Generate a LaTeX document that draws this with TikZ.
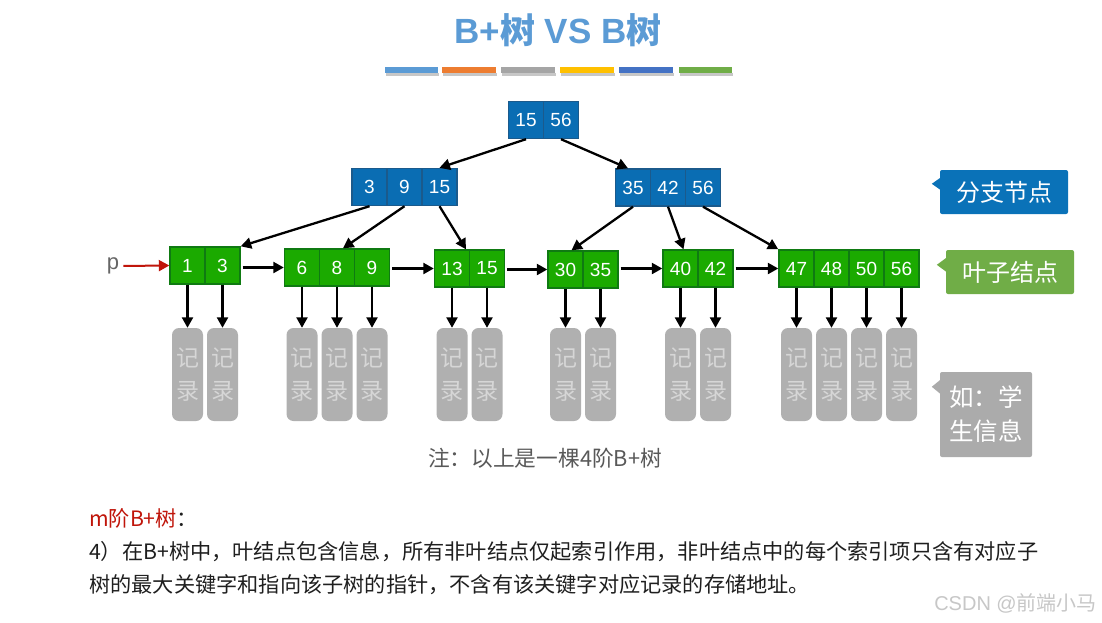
\documentclass[tikz,border=0pt]{standalone}
\usepackage{fontspec}
\setmainfont{Liberation Sans}
\newfontfamily\cjk{Noto Sans CJK SC}
\usetikzlibrary{arrows.meta,calc}
\definecolor{nblue}{HTML}{0A6DB3}
\definecolor{nblueb}{HTML}{1B5A8C}
\definecolor{ngreen}{HTML}{1BAA00}
\definecolor{ngreenb}{HTML}{0F7A12}
\definecolor{recgray}{HTML}{B0B0B0}
\definecolor{rectext}{HTML}{D6D6D6}
\definecolor{lblblue}{HTML}{0A72B8}
\definecolor{lblgreen}{HTML}{70AD47}
\definecolor{lblgray}{HTML}{ABABAB}
\definecolor{ttl}{HTML}{5B9BD5}
\definecolor{pred}{HTML}{C0150A}
\definecolor{notegray}{HTML}{595959}
\definecolor{barA}{HTML}{5B9BD5}
\definecolor{barB}{HTML}{ED7D31}
\definecolor{barC}{HTML}{A5A5A5}
\definecolor{barD}{HTML}{FFC000}
\definecolor{barE}{HTML}{4472C4}
\definecolor{barF}{HTML}{70AD47}
\tikzset{
  cellb/.style={draw=nblueb, fill=nblue, line width=1.4pt, minimum width=35pt, minimum height=37pt, inner sep=0pt, text=white, font=\fontsize{19pt}{19pt}\selectfont},
  cellg/.style={cellb, draw=ngreenb, fill=ngreen},
  rec/.style={fill=recgray, rounded corners=7pt, minimum width=31pt, minimum height=93pt, inner sep=0pt, text=rectext, align=center, font=\cjk\fontsize{23pt}{33pt}\selectfont},
  arr/.style={line width=2.3pt, -{Triangle[length=10.5pt,width=11pt]}},
  lbl/.style={rounded corners=2pt, minimum width=128pt, minimum height=44pt, inner sep=0pt, text=white, font=\cjk\fontsize{24pt}{24pt}\selectfont},
  bodytext/.style={anchor=west, inner sep=0pt, text=black!88, font=\cjk\fontsize{21.2pt}{21.2pt}\selectfont},
}
\begin{document}
\begin{tikzpicture}[x=1pt,y=-1pt]
\path[use as bounding box, fill=white] (0,0) rectangle (1102,622);
% title
\node[anchor=base, text=ttl, font=\bfseries\fontsize{35pt}{35pt}\selectfont] (title) at (558,43) {B+{\cjk\bfseries 树} VS B{\cjk\bfseries 树}};
% colour bars
\foreach \xa/\xb/\c in {385/438/barA, 442/496/barB, 501/555/barC, 560/614/barD, 619/673/barE, 679/732/barF}{
  \fill[black!22] (\xa+1,73) rectangle (\xb+1,75.5);
  \fill[\c] (\xa,67) rectangle (\xb,73);
}
% root
\node[cellb] (r1) at (526,120) {15};
\node[cellb] (r2) at (561,120) {56};
% internal
\node[cellb] (a1) at (369.5,187) {3};
\node[cellb] (a2) at (404.5,187) {9};
\node[cellb] (a3) at (439.5,187) {15};
\node[cellb] (b1) at (633,187.5) {35};
\node[cellb] (b2) at (668,187.5) {42};
\node[cellb] (b3) at (703,187.5) {56};
% leaves
\node[cellg] (l1a) at (187.5,265.5) {1};
\node[cellg] (l1b) at (222.5,265.5) {3};
\node[cellg] (l2a) at (302,267.5) {6};
\node[cellg] (l2b) at (337,267.5) {8};
\node[cellg] (l2c) at (372,267.5) {9};
\node[cellg] (l3a) at (452,268.5) {13};
\node[cellg] (l3b) at (487,268.5) {15};
\node[cellg] (l4a) at (565.5,269.5) {30};
\node[cellg] (l4b) at (600.5,269.5) {35};
\node[cellg] (l5a) at (680.5,268.5) {40};
\node[cellg] (l5b) at (715.5,268.5) {42};
\node[cellg] (l6a) at (796.5,268.5) {47};
\node[cellg] (l6b) at (831.5,268.5) {48};
\node[cellg] (l6c) at (866.5,268.5) {50};
\node[cellg] (l6d) at (901.5,268.5) {56};
% tree arrows
\draw[arr] (r1.south) -- (a3.north);
\draw[arr] (r2.south) -- ($(b1.north)+(-5,0)$);
\draw[arr] (a1.south) -- (l1b.north east);
\draw[arr] (a2.south) -- ($(l2b.north)+(6,0)$);
\draw[arr] (a3.south) -- ($(l3a.north)+(14,0)$);
\draw[arr] (b1.south) -- ($(l4a.north)+(6,0)$);
\draw[arr] (b2.south) -- ($(l5a.north)+(3,0)$);
\draw[arr] (b3.south) -- (l6a.north west);
% leaf chain
\draw[arr, shorten <=2pt] (l1b.east |- l2a.west) -- (l2a.west);
\draw[arr, shorten <=2pt] (l2c.east |- l3a.west) -- (l3a.west);
\draw[arr, shorten <=2pt] (l3b.east |- l4a.west) -- (l4a.west);
\draw[arr, shorten <=2pt] (l4b.east |- l5a.west) -- (l5a.west);
\draw[arr, shorten <=2pt] (l5b.east |- l6a.west) -- (l6a.west);
% p pointer
\node[inner sep=0pt, text=black!60, font=\fontsize{22pt}{22pt}\selectfont] (p) at (113,266) {p};
\draw[line width=2pt, draw=pred, -{Triangle[length=10.5pt,width=11pt]}, shorten <=4pt] (p.east) -- (l1a.west);
% records
\foreach \c in {l1a,l1b,l2a,l2b,l2c,l3a,l3b,l4a,l4b,l5a,l5b,l6a,l6b,l6c,l6d}{
  \node[rec] (rec-\c) at (\c |- 0,374.5) {记\\录};
  \draw[arr] (\c.south) -- (rec-\c.north);
}
% labels
\node[lbl, fill=lblblue] (fz) at (1004,192) {分支节点};
\fill[lblblue] ($(fz.north west)+(0.5,8)$) -- ($(fz.north west)+(-8,14)$) -- ($(fz.north west)+(0.5,20)$) -- cycle;
\node[lbl, fill=lblgreen] (yz) at (1010,272) {叶子结点};
\fill[lblgreen] ($(yz.north west)+(0.5,8)$) -- ($(yz.north west)+(-9,15)$) -- ($(yz.north west)+(0.5,22)$) -- cycle;
\node[lbl, fill=lblgray, minimum width=92pt, minimum height=85pt, align=center, font=\cjk\fontsize{24.5pt}{34pt}\selectfont] (ex) at (986,414.5) {如：学\\生信息};
\fill[lblgray] ($(ex.north west)+(0.5,8)$) -- ($(ex.north west)+(-8,15)$) -- ($(ex.north west)+(0.5,22)$) -- cycle;
% note
\node[inner sep=0pt, text=notegray, font=\cjk\fontsize{21.7pt}{21.7pt}\selectfont] (note) at (545,458) {注：以上是一棵4阶B+树};
% body text
\node[bodytext] (t1) at (89,518) {\textcolor{pred}{m阶B+树}：};
\node[bodytext] (t2) at (89,552) {4）在B+树中，叶结点包含信息，所有非叶结点仅起索引作用，非叶结点中的每个索引项只含有对应子};
\node[bodytext] (t3) at (89,585) {树的最大关键字和指向该子树的指针，不含有该关键字对应记录的存储地址。};
% watermark
\node[anchor=east, inner sep=0pt, text=black!22, font=\fontsize{20pt}{20pt}\selectfont] (wm) at (1097,603) {CSDN @{\cjk 前端小马}};
\end{tikzpicture}
\end{document}
